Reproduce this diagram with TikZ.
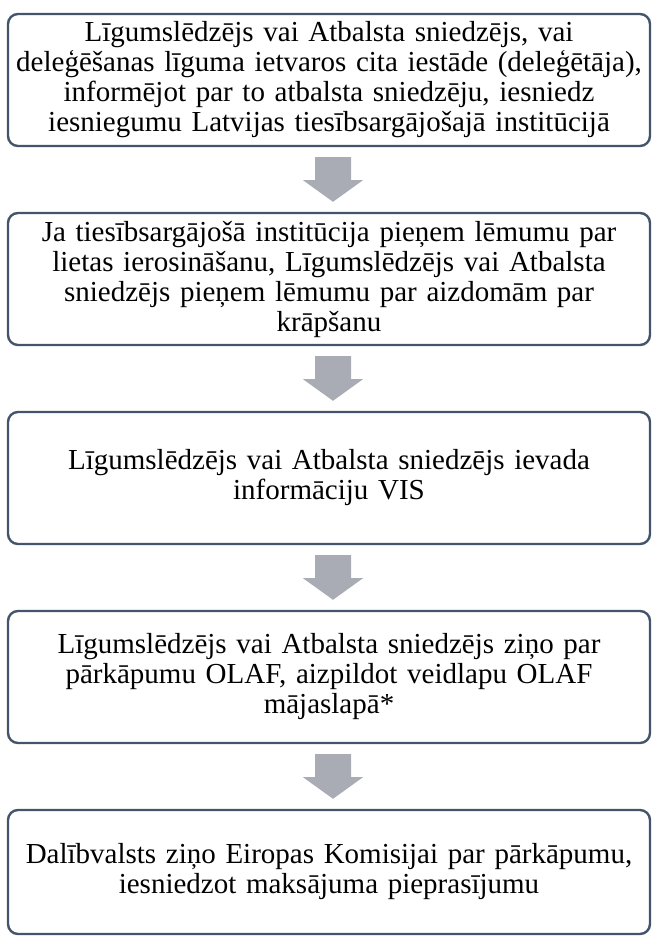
\documentclass[tikz,border=0pt]{standalone}
\usepackage{fontspec}
\setmainfont{Liberation Serif}
\usetikzlibrary{calc}
\definecolor{boxline}{HTML}{44546A}
\definecolor{arrowgray}{HTML}{A9ACB4}
\tikzset{
  stepbox/.style={draw=boxline, line width=2.4pt, rounded corners=10pt, fill=white,
    minimum width=642pt, minimum height=132pt, text width=626pt, inner xsep=8pt, inner ysep=0pt,
    align=center, font=\fontsize{29}{30}\selectfont},
  blockarrow/.style={fill=arrowgray, draw=none}
}
\newcommand{\downarrowblock}[2]{%
  \fill[blockarrow]
    ($(#1.south)+(-14pt,-10pt)$) -- ($(#1.south)+(22pt,-10pt)$) --
    ($(#1.south)+(22pt,-33pt)$) -- ($(#1.south)+(34pt,-33pt)$) --
    ($(#2.north)+(4pt,10pt)$) --
    ($(#1.south)+(-26pt,-33pt)$) -- ($(#1.south)+(-14pt,-33pt)$) -- cycle;}
\begin{document}
\begin{tikzpicture}[x=1pt,y=1pt]
\useasboundingbox (0,0) rectangle (652,-936);
\node[stepbox] (b1) at (329,-80) {Līgumslēdzējs vai Atbalsta sniedzējs, vai\\ deleģēšanas līguma ietvaros cita iestāde (deleģētāja),\\ informējot par to atbalsta sniedzēju, iesniedz\\ iesniegumu Latvijas tiesībsargājošajā institūcijā};
\node[stepbox] (b2) at (329,-279) {Ja tiesībsargājošā institūcija pieņem lēmumu par\\ lietas ierosināšanu, Līgumslēdzējs vai Atbalsta\\ sniedzējs pieņem lēmumu par aizdomām par\\ krāpšanu};
\node[stepbox] (b3) at (329,-478) {Līgumslēdzējs vai Atbalsta sniedzējs ievada\\ informāciju VIS};
\node[stepbox] (b4) at (329,-677) {Līgumslēdzējs vai Atbalsta sniedzējs ziņo par\\ pārkāpumu OLAF, aizpildot veidlapu OLAF\\ mājaslapā*};
\node[stepbox, minimum height=124pt] (b5) at (329,-872) {Dalībvalsts ziņo Eiropas Komisijai par pārkāpumu,\\ iesniedzot maksājuma pieprasījumu};
\downarrowblock{b1}{b2}
\downarrowblock{b2}{b3}
\downarrowblock{b3}{b4}
\downarrowblock{b4}{b5}
\end{tikzpicture}
\end{document}
